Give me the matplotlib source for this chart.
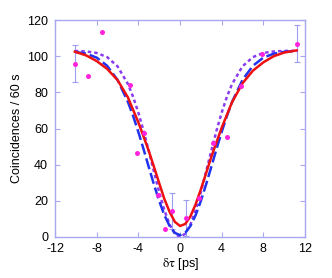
import matplotlib
matplotlib.use('Agg')
import matplotlib.pyplot as plt

plt.rcParams['font.family'] = ['Liberation Sans', 'DejaVu Sans']
plt.rcParams['mathtext.fontset'] = 'stix'
plt.rcParams['axes.unicode_minus'] = False

# measured coincidences
delay = [-10.11, -8.80, -7.46, -4.80, -4.13, -3.49, -2.14, -1.47, -0.80,
         0.54, 1.85, 3.19, 4.54, 5.85, 7.87, 11.19]
counts = [95.8, 89.0, 113.4, 83.9, 46.5, 57.7, 23.2, 4.6, 14.5,
          10.3, 21.4, 51.8, 55.1, 83.5, 101.2, 106.9]

# points that carry an error bar
err_delay = [-10.11, -0.80, 0.54, 11.19]
err_counts = [95.8, 14.5, 10.3, 106.9]
err_size = [10.2, 10.0, 10.0, 10.1]

# fitted curve (red, solid)
fit_x = [-10.1, -9, -8, -7, -6, -5, -4, -3.5, -3, -2.5, -2, -1.5, -1, -0.5, 0,
         0.5, 1, 1.5, 2, 2.5, 3, 3.5, 4, 5, 6, 7, 8, 9, 10, 11.2]
fit_y = [102.5, 100.4, 97.3, 93.0, 86.8, 77.2, 63.4, 55.6, 47.6, 38.8, 29.8, 21.0,
         13.9, 8.4, 6.1, 7.2, 11.4, 18.1, 26.3, 35.2, 44.2, 52.4, 60.4, 74.6,
         85.0, 92.0, 96.6, 100.0, 102.0, 103.2]

# model curves (blue dashed, purple dotted)
mod_x = [-10.1, -9, -8, -7, -6, -5, -4.5, -4, -3.5, -3, -2.5, -2, -1.5, -1, -0.5, 0,
         0.5, 1, 1.5, 2, 2.5, 3, 3.5, 4, 4.5, 5, 6, 7, 8, 9, 10, 11.2]
blue_y = [102.4, 101.4, 99.2, 94.7, 86.9, 74.7, 66.9, 58.1, 48.6, 38.7, 29.0, 19.9,
          12.1, 6.1, 2.3, 1.0, 2.3, 6.1, 12.1, 19.9, 29.0, 38.7, 48.6, 58.1, 66.9,
          74.7, 86.9, 94.7, 99.2, 101.4, 102.4, 102.9]
purple_y = [102.9, 102.6, 101.8, 99.5, 94.4, 84.6, 77.5, 68.8, 58.7, 47.6, 36.1, 24.8,
            14.8, 6.9, 1.8, 0.0, 1.8, 6.9, 14.8, 24.8, 36.1, 47.6, 58.7, 68.8, 77.5,
            84.6, 94.4, 99.5, 101.8, 102.6, 102.9, 103.0]

fig = plt.figure(figsize=(3.32, 2.78), dpi=100)
ax = fig.add_axes([0.1657, 0.1475, 0.753, 0.7805])

frame = '#a8a8f0'
ax.plot(mod_x, purple_y, color='#8a3cf0', lw=1.8, ls=(0, (1.4, 1.2)), zorder=2)
ax.plot(mod_x, blue_y, color='#2233ee', lw=1.8, ls=(0, (4.5, 1.6)), zorder=2)
ax.plot(fit_x, fit_y, color='#ee1111', lw=1.8, zorder=3)
ax.errorbar(err_delay, err_counts, yerr=err_size, fmt='none', ecolor='#9c9cf0',
            elinewidth=0.8, capsize=2, capthick=0.8, zorder=1)
ax.plot(delay, counts, 'o', color='#ff22dd', ms=3.6, mec='none', zorder=4)

ax.set_xlim(-12, 12)
ax.set_ylim(0, 120)
ax.set_xticks(range(-12, 13, 4))
ax.set_yticks(range(0, 121, 20))
ax.tick_params(direction='in', top=True, right=True, color=frame, length=3.5,
               width=0.8, labelsize=9)
ax.tick_params(axis='x', pad=4)
ax.tick_params(axis='y', pad=5)
for s in ax.spines.values():
    s.set_color(frame)
    s.set_linewidth(1.0)

ax.set_xlabel(r'$\mathrm{\delta\tau}$ [ps]', fontsize=9, labelpad=1)
ax.set_ylabel('Coincidences / 60 s', fontsize=9, labelpad=3)

fig.savefig('out.png', dpi=100)
